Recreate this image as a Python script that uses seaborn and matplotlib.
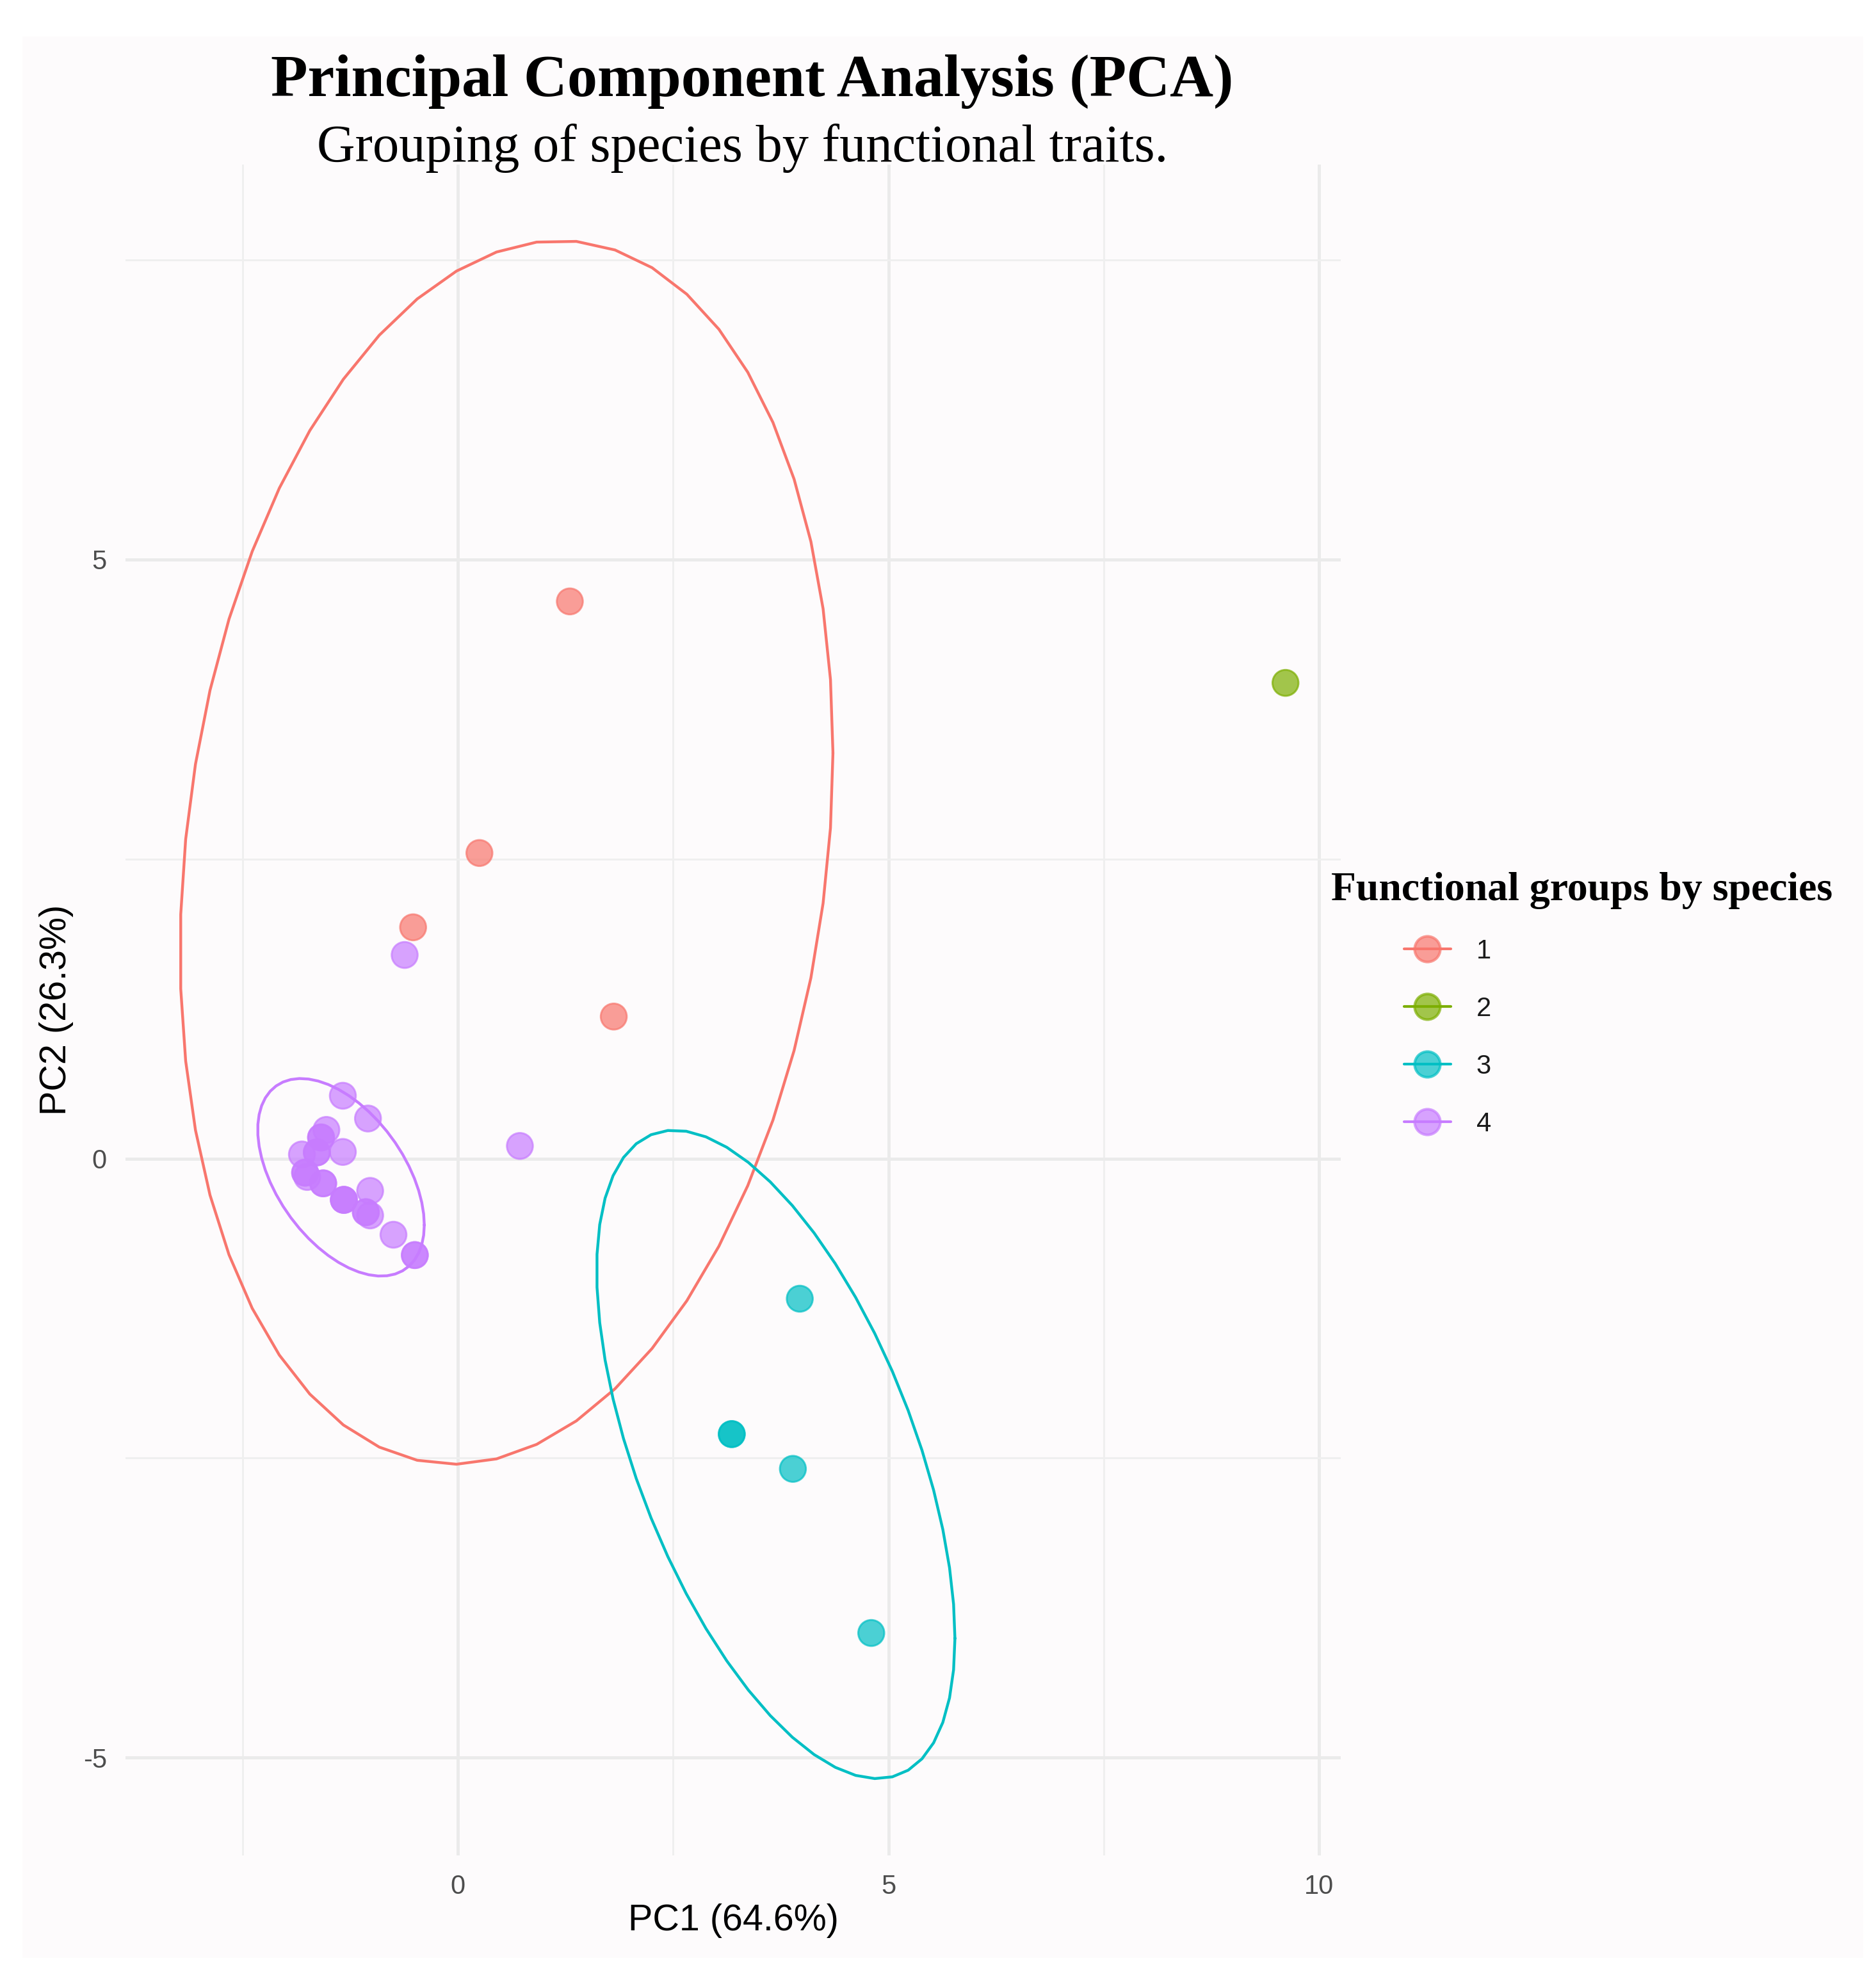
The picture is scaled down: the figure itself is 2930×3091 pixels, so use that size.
import numpy as np
import pandas as pd
import matplotlib
matplotlib.use("Agg")
import matplotlib.pyplot as plt
from matplotlib.lines import Line2D
from matplotlib.patches import Rectangle
import seaborn as sns

# ---------------- data ----------------
groups = ["1", "2", "3", "4"]
palette = ["#F8766D", "#7CAE00", "#00BFC4", "#C77CFF"]

g1_pc1 = [1.30, 0.25, -0.52, 1.81]
g1_pc2 = [4.65, 2.55, 1.93, 1.185]

g2_pc1 = [9.61]
g2_pc2 = [3.97]

g3_pc1 = [3.97, 3.18, 3.18, 3.89, 4.80]
g3_pc2 = [-1.17, -2.30, -2.30, -2.59, -3.96]

# group 4: dense cluster (several species overlap exactly) plus two outliers
g4_pc1 = [-1.336, -1.044, -1.527, -1.589, -1.589, -1.811, -1.638, -1.638, -1.336,
          -1.774, -1.774, -1.750, -1.564, -1.564, -1.324, -1.324, -1.324, -1.019,
          -1.069, -1.069, -1.019, -0.748, -0.500, -0.500, -0.618, 0.72]
g4_pc2 = [0.524, 0.334, 0.239, 0.176, 0.176, 0.034, 0.051, 0.051, 0.055,
          -0.118, -0.118, -0.154, -0.207, -0.207, -0.345, -0.345, -0.345, -0.270,
          -0.448, -0.448, -0.475, -0.636, -0.806, -0.806, 1.699, 0.105]

title = "Principal Component Analysis (PCA)"
subtitle = "Grouping of species by functional traits."
xlabel = "PC1 (64.6%)"
ylabel = "PC2 (26.3%)"
legend_title = "Functional groups by species"
x_major = [0, 5, 10]
x_minor = [-2.5, 2.5, 7.5]
y_major = [-5, 0, 5]
y_minor = [-2.5, 2.5, 7.5]

pc1 = [g1_pc1, g2_pc1, g3_pc1, g4_pc1]
pc2 = [g1_pc2, g2_pc2, g3_pc2, g4_pc2]
df = pd.concat([pd.DataFrame({"PC1": a, "PC2": b, "group": g})
                for a, b, g in zip(pc1, pc2, groups)], ignore_index=True)


# ---------------- robust t ellipse (as ggplot2 stat_ellipse, type = "t") ----------------
def cov_trob(X, nu=5, maxit=25, tol=0.01):
    n, p = X.shape
    wt = np.ones(n)
    loc = X.mean(axis=0)
    w = np.sqrt(wt)
    Xc = X - loc
    for _ in range(maxit):
        w0 = w
        Xc = X - loc
        sw = np.sqrt(w / w.sum())
        _, d, Vt = np.linalg.svd(sw[:, None] * Xc, full_matrices=False)
        wX = Xc @ Vt.T @ np.diag(1.0 / d)
        Q = (wX ** 2).sum(axis=1)
        w = wt * (nu + p) / (nu + Q)
        loc = (w[:, None] * X).sum(axis=0) / w.sum()
        if np.all(np.abs(w - w0) < tol):
            break
    sX = np.sqrt(w)[:, None] * Xc
    cov = sX.T @ sX / wt.sum()
    return cov, loc


def t_ellipse(x, y, level=0.95, segments=51):
    X = np.column_stack([x, y]).astype(float)
    cov, center = cov_trob(X)
    R = np.linalg.cholesky(cov).T
    dfd = len(x) - 1
    fq = dfd / 2.0 * ((1 - level) ** (-2.0 / dfd) - 1)
    radius = np.sqrt(2 * fq)
    ang = np.arange(segments + 1) * 2 * np.pi / segments
    uc = np.column_stack([np.cos(ang), np.sin(ang)])
    return center + radius * (uc @ R)


# ---------------- figure ----------------
W, H, DPI = 2930, 3091, 300
sns.set_theme(style="white")
plt.rcParams["font.family"] = ["Liberation Sans", "DejaVu Sans"]
bg = "#FDFBFC"
serif = ["Liberation Serif", "DejaVu Serif"]

fig = plt.figure(figsize=(W / DPI, H / DPI), dpi=DPI, facecolor="white")
fig.patches.append(Rectangle((35 / W, 1 - 3058 / H), (2910 - 35) / W, (3058 - 57) / H,
                             transform=fig.transFigure, facecolor=bg, edgecolor="none",
                             zorder=-10))

left, right, top, bottom = 196 / W, 2094 / W, 257 / H, 2898 / H
ax = fig.add_axes([left, 1 - bottom, right - left, bottom - top])
ax.set_facecolor("none")

sns.scatterplot(data=df, x="PC1", y="PC2", hue="group", hue_order=groups,
                palette=palette, s=95, alpha=0.7, edgecolor="face", linewidth=0.7,
                legend=False, ax=ax, zorder=3)

xs_all = list(df["PC1"])
ys_all = list(df["PC2"])
for a, b, c in zip(pc1, pc2, palette):
    if len(a) >= 3:
        E = t_ellipse(a, b)
        ax.plot(E[:, 0], E[:, 1], color=c, lw=1.05, zorder=4)
        xs_all += list(E[:, 0])
        ys_all += list(E[:, 1])

xr = (min(xs_all), max(xs_all))
yr = (min(ys_all), max(ys_all))
ex = 0.05 * (xr[1] - xr[0])
ey = 0.05 * (yr[1] - yr[0])
ax.set_xlim(xr[0] - ex, xr[1] + ex)
ax.set_ylim(yr[0] - ey, yr[1] + ey)

ax.set_xticks(x_major)
ax.set_xticks(x_minor, minor=True)
ax.set_yticks(y_major)
ax.set_yticks(y_minor, minor=True)
ax.set_xticklabels([str(v) for v in x_major])
ax.set_yticklabels([str(v) for v in y_major])
ax.grid(which="major", color="#EBEBEB", lw=1.2, zorder=0)
ax.grid(which="minor", color="#EFEFEF", lw=0.7, zorder=0)
ax.set_axisbelow(True)
for s in ax.spines.values():
    s.set_visible(False)
ax.tick_params(which="both", length=0, pad=7, labelsize=10, labelcolor="#4D4D4D")

ax.set_xlabel(xlabel, fontsize=13.8, color="black")
ax.set_ylabel(ylabel, fontsize=13.8, color="black")
ax.xaxis.set_label_coords(0.5, (2898 - 3000) / (2898 - 257))
ax.xaxis.label.set_va("center")
ax.yaxis.set_label_coords((88 - 196) / (2094 - 196), 0.5)
ax.yaxis.label.set_va("center")

# titles
fig.text(1175 / W, 1 - 150 / H, title, ha="center", va="baseline", color="black",
         fontsize=22.6, fontweight="bold", family=serif)
fig.text(1160 / W, 1 - 252 / H, subtitle, ha="center", va="baseline", color="black",
         fontsize=19.8, family=serif)

# legend
fig.text(2079 / W, 1 - 1406 / H, legend_title, ha="left", va="baseline", color="black",
         fontsize=15.3, fontweight="bold", family=serif)
handles = []
for c in palette:
    rgba = matplotlib.colors.to_rgba(c, 0.7)
    handles.append(Line2D([0], [0], color=c, lw=1.0, marker="o", markersize=9.6,
                          markerfacecolor=rgba, markeredgecolor=rgba))
leg = fig.legend(handles, groups, loc="center left",
                 bbox_to_anchor=(2193 / W, 1 - 1621 / H), frameon=False,
                 fontsize=10, handlelength=1.75, handletextpad=0.95,
                 labelspacing=1.2, borderpad=0, borderaxespad=0)
for t in leg.get_texts():
    t.set_color("#1A1A1A")

fig.savefig("out.png", dpi=DPI, facecolor="white")
